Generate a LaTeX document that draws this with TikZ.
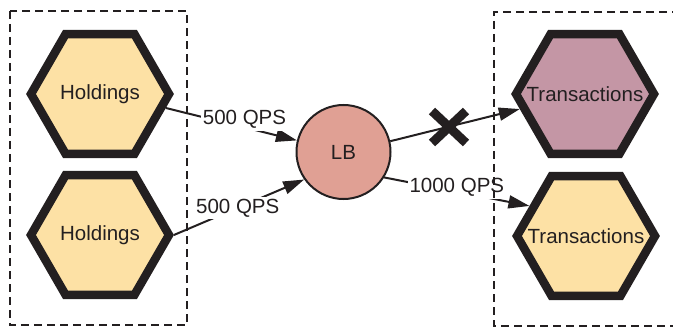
\documentclass[tikz,border=0pt]{standalone}
\usepackage{fontspec}
\setmainfont{Liberation Sans}
\usetikzlibrary{shapes.geometric,arrows.meta}
\definecolor{ink}{HTML}{231F20}
\definecolor{hexyel}{HTML}{FDE1A5}
\definecolor{hexpur}{HTML}{C496A5}
\definecolor{lbfill}{HTML}{E0A094}
\begin{document}
\begin{tikzpicture}[x=1pt,y=-1pt,
  txt/.style={font=\fontsize{20.5}{24}\selectfont, text=ink},
  hexnode/.style={regular polygon, regular polygon sides=6, minimum size=138pt,
    inner sep=0pt, draw=ink, line width=8.5pt, txt},
  conn/.style={draw=ink, line width=2pt, -{Triangle[length=21pt,width=13pt]}},
  lbl/.style={fill=white, inner sep=2pt, txt},
  groupbox/.style={draw=ink, line width=2pt, dash pattern=on 8pt off 5pt}]
\clip (0,0) rectangle (673,329);
% nodes
\node[hexnode, fill=hexyel] (h1) at (100,94) {\makebox[0pt]{Holdings}};
\node[hexnode, fill=hexyel] (h2) at (100,235) {\makebox[0pt]{Holdings}};
\node[hexnode, fill=hexpur] (t1) at (585,94) {\makebox[0pt]{Transactions}};
\node[hexnode, fill=hexyel] (t2) at (586,236) {\makebox[0pt]{Transactions}};
\node[circle, draw=ink, line width=2pt, fill=lbfill, minimum size=94pt, inner sep=0pt, txt] (lb) at (343.5,152) {LB};
% connectors
\draw[conn] (h1.-12) -- node[lbl, pos=0.6, yshift=8pt] {500 QPS} (lb.166);
\draw[conn] (h2.east) -- node[lbl, pos=0.49] {500 QPS} (lb.215);
\draw[conn] (lb.13) -- (t1.193);
\draw[conn] (lb.-32) -- node[lbl, pos=0.5, yshift=4pt] {1000 QPS} (t2.152);
% blocked mark
\coordinate (xm) at (449,127);
\draw[ink, line width=9pt] (xm) ++(-17,-16) -- ++(34,32);
\draw[ink, line width=9pt] (xm) ++(17,-16) -- ++(-34,32);
% group boxes
\draw[groupbox] (10,11) rectangle (187,325);
\draw[groupbox] (680,12) -- (494,12) -- (494,326) -- (680,326);
\end{tikzpicture}
\end{document}
